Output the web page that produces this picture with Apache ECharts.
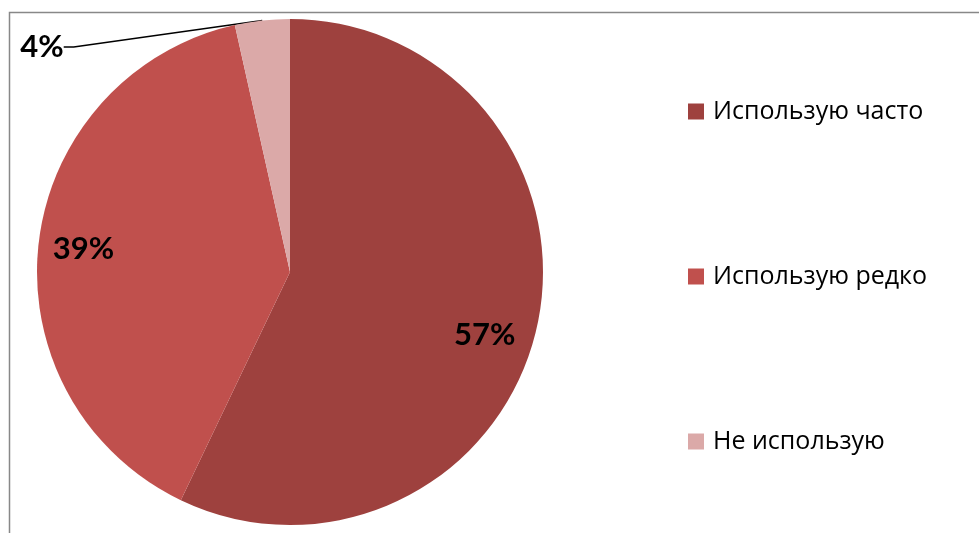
<!DOCTYPE html>
<html><head><meta charset="utf-8">
<script src="https://cdn.jsdelivr.net/npm/echarts@6/dist/echarts.min.js"></script>
<style>html,body{margin:0;padding:0;background:#fff;}#c{width:979px;height:533px;}</style>
</head><body><div id="c"></div>
<script>
const categories = ['Использую часто', 'Использую редко', 'Не использую'];
const values = [57.1, 39.4, 3.5];
const colors = ['#9E413E', '#C0504D', '#DBA9A8'];

const chart = echarts.init(document.getElementById('c'));
const FONT = 'Lato, "Open Sans", sans-serif';
const LFONT = '"Open Sans", "Noto Sans", sans-serif';
const R = 253;
const pieData = categories.map((n, i) => ({ name: n, value: values[i], itemStyle: { color: colors[i] } }));

chart.setOption({
  animation: false,
  backgroundColor: '#fff',
  graphic: [{ type: 'rect', shape: { x: 9.5, y: 12.5, width: 1000, height: 600 }, style: { fill: 'none', stroke: '#888888', lineWidth: 1.5 }, silent: true, z: 10 }],
  legend: {
    orient: 'vertical', left: 688, top: 99, padding: 0,
    itemWidth: 16, itemHeight: 16, itemGap: 140,
    icon: 'rect',
    textStyle: { fontFamily: LFONT, fontSize: 25, lineHeight: 24, color: '#000', padding: [0, 0, 0, 4] },
    data: categories
  },
  series: [
    {
      type: 'pie', center: [290, 272], radius: R, startAngle: 90, clockwise: true,
      label: { show: false }, labelLine: { show: false },
      itemStyle: { borderWidth: 0 },
      emphasis: { disabled: true },
      data: pieData.map((d, i) => i === 2 ? Object.assign({}, d, {
        label: { show: true, position: 'outside', formatter: p => Math.round(p.percent) + '%', fontFamily: FONT, fontWeight: 'bold', fontSize: 31, color: '#000' },
        labelLine: { show: true, length: 10, length2: 10, lineStyle: { color: '#000', width: 1.5 } }
      }) : d),
      labelLayout: function (p) {
        if (p.dataIndex === 2) return { x: 42, y: 47, align: 'center', verticalAlign: 'middle' };
        return {};
      }
    },
    {
      type: 'pie', center: [290, 272], radius: [R * 0.62, R], startAngle: 90, clockwise: true,
      silent: true, legendHoverLink: false,
      itemStyle: { color: 'rgba(0,0,0,0)', borderWidth: 0 },
      label: { show: true, position: 'inside', formatter: p => Math.round(p.percent) + '%', fontFamily: FONT, fontWeight: 'bold', fontSize: 31, color: '#000' },
      labelLine: { show: false },
      data: categories.map((n, i) => ({ name: n + ' ', value: values[i], label: { show: i !== 2 } })),
      labelLayout: function (p) {
        if (p.dataIndex === 0) return { dx: -8, dy: 17 };
        return {};
      }
    }
  ]
});
</script></body></html>
